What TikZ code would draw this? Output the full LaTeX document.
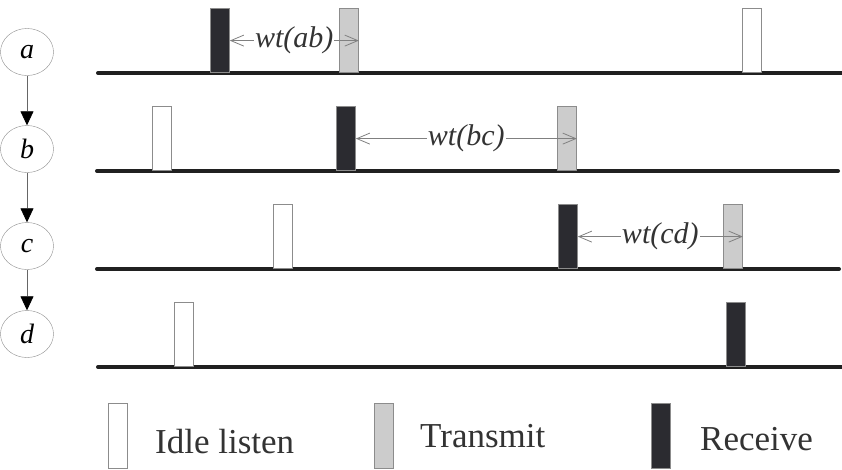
\documentclass[tikz,border=0pt]{standalone}
\usepackage{fontspec}
\setmainfont{Liberation Serif}
\usetikzlibrary{arrows.meta,positioning,shapes.geometric}
\definecolor{rcvfill}{HTML}{2B2B30}
\definecolor{sndfill}{HTML}{CCCCCC}
\definecolor{boxline}{HTML}{8C8C8C}
\definecolor{tlcol}{HTML}{202020}

\begin{document}
\begin{tikzpicture}[x=1pt,y=-1pt,
   state/.style={draw=boxline,ellipse,minimum width=53pt,minimum height=47pt,
               inner sep=0pt,font=\fontsize{28}{30}\selectfont\itshape},
   slot/.style={draw=boxline,line width=0.8pt,anchor=south west,
               minimum width=19pt,minimum height=64pt,inner sep=0pt},
   idle/.style={slot,fill=white},
   send/.style={slot,fill=sndfill},
   recv/.style={slot,fill=rcvfill},
   tline/.style={line width=4pt,color=tlcol,line cap=round},
   flow/.style={-{Triangle[length=14pt,width=13pt,color=black]},draw=gray!80!black,line width=0.7pt},
   wait/.style={{Straight Barb[length=13pt,width=11pt]}-{Straight Barb[length=13pt,width=11pt]},
               draw=gray,line width=0.8pt},
   wlab/.style={fill=white,inner sep=1pt,font=\fontsize{30}{32}\selectfont\itshape,text=black!80},
   leg/.style={anchor=base west,inner sep=0pt,font=\fontsize{35}{38}\selectfont,text=black!80}
  ]
  \useasboundingbox (0,0) rectangle (842,469);

  % nodes of the chain
  \node[state] (a) at (27,52)  {a};
  \node[state] (b) at (27,149) {b};
  \node[state] (c) at (27,246) {c};
  \node[state] (d) at (27,334) {d};
  \draw[flow] (a) -- (b);
  \draw[flow] (b) -- (c);
  \draw[flow] (c) -- (d);

  % time lines
  \draw[tline] (98,73)  -- (842,73);
  \draw[tline] (97,171) -- (838,171);
  \draw[tline] (97,269) -- (839,269);
  \draw[tline] (98,367) -- (842,367);

  % slots, row a
  \node[recv] (ra) at (210,73) {};
  \node[send] (sa) at (339,73) {};
  \node[idle] (ia) at (742,73) {};
  % row b
  \node[idle] (ib) at (152,171) {};
  \node[recv] (rb) at (336,171) {};
  \node[send] (sb) at (557,171) {};
  % row c
  \node[idle] (ic) at (273,269) {};
  \node[recv] (rc) at (558,269) {};
  \node[send] (sc) at (723,269) {};
  % row d
  \node[idle] (id) at (174,367) {};
  \node[recv] (rd) at (726,367) {};

  % waiting times
  \draw[wait] (ra.east) -- node[wlab] {wt(ab)} (sa.east);
  \draw[wait] (rb.east) -- node[wlab] {wt(bc)} (sb.east);
  \draw[wait] (rc.east) -- node[wlab] {wt(cd)} (sc.east);

  % legend
  \node[idle,anchor=north west,minimum height=65pt] (li) at (108,403) {};
  \node[leg] (lit) at (155,453) {Idle listen};
  \node[send,anchor=north west,minimum height=65pt] (ls) at (374,403) {};
  \node[leg] (lst) at (420,447) {Transmit};
  \node[recv,anchor=north west,minimum height=65pt] (lr) at (651,403) {};
  \node[leg] (lrt) at (700,450) {Receive};
\end{tikzpicture}
\end{document}
